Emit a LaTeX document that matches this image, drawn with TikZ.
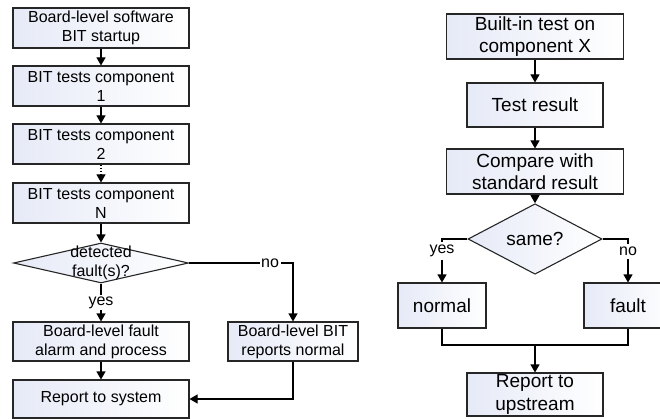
\documentclass[tikz,border=0pt]{standalone}
\usepackage{fontspec}
\setmainfont{Liberation Sans}
\usetikzlibrary{arrows.meta,shapes.geometric}
\definecolor{boxblue}{RGB}{230,234,247}
\tikzset{
  base/.style={draw=black!85, line width=1.1pt, left color=boxblue, right color=white, inner sep=0pt, align=center},
  lbox/.style={base, font=\fontsize{16}{19}\selectfont},
  rbox/.style={base, font=\fontsize{19}{22.5}\selectfont},
  dia/.style={base, shape=diamond},
  arr/.style={line width=1.1pt, -{Triangle[length=8pt,width=9pt]}},
  ln/.style={line width=1.1pt},
  lbl/.style={fill=white, inner sep=1.5pt, font=\fontsize{16}{19}\selectfont},
}
\begin{document}
\begin{tikzpicture}[x=1pt,y=-1pt]
\useasboundingbox (0,0) rectangle (660,419);
% left flow
\node[lbox, minimum width=176pt, minimum height=40pt] (b1) at (101,28) {Board-level software\\BIT startup};
\node[lbox, minimum width=176pt, minimum height=40pt] (b2) at (101,86) {BIT tests component\\1};
\node[lbox, minimum width=176pt, minimum height=40pt] (b3) at (101,144) {BIT tests component\\2};
\node[lbox, minimum width=176pt, minimum height=40pt] (b4) at (101,203) {BIT tests component\\N};
\node[dia, minimum width=175pt, minimum height=40pt] (d1) at (101,263) {};
\node[font=\fontsize{16}{19}\selectfont, align=center, inner sep=0pt] (d1t) at (d1.center) {detected\\fault(s)?};
\node[lbox, minimum width=176pt, minimum height=39pt] (b5) at (101,341.5) {Board-level fault\\alarm and process};
\node[lbox, minimum width=130pt, minimum height=39pt] (b6) at (293,341.5) {Board-level BIT\\reports normal};
\node[lbox, minimum width=176pt, minimum height=38pt] (b7) at (101,399) {Report to system};
\draw[arr] (b1) -- (b2);
\draw[arr] (b2) -- (b3);
\draw[arr, dotted] (b3) -- (b4);
\draw[arr] (b4) -- (d1);
\draw[arr] (d1.south) -- node[lbl]{yes} (b5.north);
\draw[arr] (d1.east) -| node[lbl, pos=0.39]{no} (b6.north);
\draw[arr] (b5) -- (b7);
\draw[arr] (b6.south) |- (b7.east);
% right flow
\node[rbox, minimum width=177pt, minimum height=45pt] (r1) at (535,36.5) {Built-in test on\\component X};
\node[rbox, minimum width=136pt, minimum height=44pt] (r2) at (535,105) {Test result};
\node[rbox, minimum width=177pt, minimum height=45pt] (r3) at (535,171.5) {Compare with\\standard result};
\node[dia, minimum width=134pt, minimum height=44pt, font=\fontsize{19}{22.5}\selectfont] (d2) at (535,239) {same?};
\node[rbox, minimum width=88pt, minimum height=45pt] (n1) at (442,305.5) {normal};
\node[rbox, minimum width=88pt, minimum height=45pt] (f1) at (628,305.5) {fault};
\node[rbox, minimum width=136pt, minimum height=43pt] (u1) at (535,394.5) {Report to\\upstream};
\coordinate (m) at (535,345);
\draw[arr] (r1) -- (r2);
\draw[arr] (r2) -- (r3);
\draw[arr] (r3) -- (d2);
\draw[arr] (d2.west) -| node[lbl, inner sep=3pt, pos=0.64]{yes} (n1.north);
\draw[arr] (d2.east) -| node[lbl, inner sep=3pt, pos=0.64]{no} (f1.north);
\draw[ln] (n1.south) -- (n1.south |- m) -- (f1.south |- m) -- (f1.south);
\draw[arr] (m) -- (u1);
\end{tikzpicture}
\end{document}
